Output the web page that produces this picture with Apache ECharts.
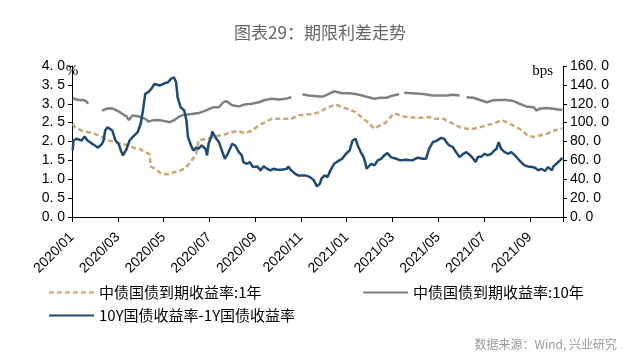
<!DOCTYPE html>
<html><head><meta charset="utf-8">
<script src="https://cdn.jsdelivr.net/npm/echarts@6/dist/echarts.min.js"></script>
<style>html,body{margin:0;padding:0;background:#fff}#c{width:640px;height:359px}</style>
</head><body><div id="c"></div>
<script>
const titleText = '图表29：期限利差走势';
const sourceText = '数据来源：Wind, 兴业研究';
const seriesNames = ['中债国债到期收益率:1年', '中债国债到期收益率:10年', '10Y国债收益率-1Y国债收益率'];
const leftUnit = '%';
const rightUnit = 'bps';
const axisStart = '2020-01-01';
const axisEnd = '2021-10-15';
const leftRange = [0, 4, 0.5];
const rightRange = [0, 160, 20];

const yield1Y = [
['2020-01-02',2.47],['2020-01-05',2.38],['2020-01-14',2.29],['2020-01-22',2.25],['2020-02-01',2.20],
['2020-02-10',2.12],['2020-02-18',2.03],['2020-02-27',1.98],['2020-03-06',1.94],['2020-03-15',1.90],
['2020-03-23',1.83],['2020-03-30',1.81],['2020-04-07',1.72],['2020-04-13',1.66],['2020-04-14',1.34],
['2020-04-19',1.28],['2020-04-28',1.15],['2020-05-07',1.13],['2020-05-16',1.19],['2020-05-24',1.23],
['2020-06-01',1.32],['2020-06-08',1.50],['2020-06-14',1.68],['2020-06-17',2.03],['2020-06-26',2.07],
['2020-07-05',2.10],['2020-07-14',2.16],['2020-07-22',2.19],['2020-08-01',2.25],['2020-08-10',2.27],
['2020-08-18',2.22],['2020-08-27',2.28],['2020-09-06',2.43],['2020-09-14',2.51],['2020-09-23',2.60],
['2020-10-02',2.60],['2020-10-11',2.60],['2020-10-19',2.60],['2020-10-28',2.69],['2020-11-07',2.72],
['2020-11-15',2.72],['2020-11-26',2.78],['2020-11-30',2.84],['2020-12-08',2.91],['2020-12-17',2.98],
['2020-12-26',2.91],['2021-01-05',2.84],['2021-01-13',2.78],['2021-01-22',2.63],['2021-02-01',2.47],
['2021-02-07',2.34],['2021-02-14',2.43],['2021-02-20',2.49],['2021-02-25',2.60],['2021-03-02',2.73],
['2021-03-08',2.72],['2021-03-14',2.66],['2021-03-23',2.65],['2021-04-02',2.63],['2021-04-11',2.63],
['2021-04-19',2.65],['2021-04-28',2.60],['2021-05-09',2.60],['2021-05-12',2.56],['2021-05-21',2.47],
['2021-05-30',2.38],['2021-06-08',2.34],['2021-06-17',2.34],['2021-06-26',2.38],['2021-07-05',2.43],
['2021-07-13',2.47],['2021-07-22',2.54],['2021-07-26',2.56],['2021-08-05',2.47],['2021-08-14',2.38],
['2021-08-22',2.29],['2021-08-29',2.16],['2021-09-06',2.12],['2021-09-14',2.16],['2021-09-23',2.20],
['2021-10-02',2.28],['2021-10-11',2.34],['2021-10-14',2.34]
];

const yield10Y = [
['2020-01-02',3.15],['2020-01-09',3.10],['2020-01-16',3.10],['2020-01-20',3.07],['2020-01-23',3.00],
['2020-01-28',null],['2020-02-10',2.82],['2020-02-16',2.87],['2020-02-23',2.88],['2020-02-29',2.82],
['2020-03-06',2.75],['2020-03-13',2.66],['2020-03-16',2.57],['2020-03-21',2.69],['2020-03-30',2.66],
['2020-04-07',2.60],['2020-04-11',2.53],['2020-04-17',2.56],['2020-04-24',2.57],['2020-05-03',2.54],
['2020-05-09',2.51],['2020-05-16',2.57],['2020-05-22',2.66],['2020-05-29',2.71],['2020-06-08',2.73],
['2020-06-14',2.75],['2020-06-17',2.75],['2020-06-26',2.82],['2020-07-02',2.87],['2020-07-07',2.91],
['2020-07-14',2.91],['2020-07-20',3.04],['2020-07-24',3.07],['2020-08-01',2.96],['2020-08-10',2.93],
['2020-08-18',2.98],['2020-08-27',3.00],['2020-09-06',3.04],['2020-09-14',3.10],['2020-09-23',3.13],
['2020-10-02',3.11],['2020-10-11',3.13],['2020-10-19',3.17],['2020-10-26',null],['2020-11-03',3.25],
['2020-11-11',3.22],['2020-11-26',3.19],['2020-11-30',3.19],['2020-12-08',3.26],['2020-12-15',3.33],
['2020-12-26',3.28],['2021-01-05',3.28],['2021-01-13',3.26],['2021-01-22',3.22],['2021-01-31',3.17],
['2021-02-07',3.13],['2021-02-14',3.16],['2021-02-22',3.16],['2021-03-02',3.22],['2021-03-10',3.25],
['2021-03-12',null],['2021-03-17',3.29],['2021-03-28',3.28],['2021-04-11',3.26],['2021-04-24',3.22],
['2021-05-09',3.22],['2021-05-12',3.22],['2021-05-21',3.24],['2021-05-30',3.22],['2021-06-03',null],
['2021-06-08',3.17],['2021-06-17',3.16],['2021-06-26',3.10],['2021-07-05',3.04],['2021-07-13',3.09],
['2021-07-22',3.10],['2021-07-31',3.10],['2021-08-10',3.07],['2021-08-18',3.00],['2021-08-27',2.93],
['2021-09-06',2.91],['2021-09-10',2.82],['2021-09-14',2.87],['2021-09-23',2.89],['2021-10-02',2.87],
['2021-10-11',2.84],['2021-10-14',2.84]
];

const spreadBps = [
['2020-01-02',70.5],['2020-01-03',81.1],['2020-01-07',82.9],['2020-01-14',81.1],['2020-01-18',85.4],
['2020-01-22',81.1],['2020-01-27',78.3],['2020-02-01',75.8],['2020-02-05',73.4],['2020-02-10',77.6],
['2020-02-12',81.1],['2020-02-14',91.7],['2020-02-17',95.2],['2020-02-23',91.7],['2020-02-27',81.1],
['2020-03-02',77.6],['2020-03-06',68.8],['2020-03-08',65.3],['2020-03-13',72.3],['2020-03-17',81.1],
['2020-03-21',84.6],['2020-03-23',86.4],['2020-03-28',89.9],['2020-04-01',98.8],['2020-04-04',112.9],
['2020-04-07',130.5],['2020-04-11',132.3],['2020-04-15',135.8],['2020-04-19',141.1],['2020-04-26',139.3],
['2020-05-03',141.8],['2020-05-07',142.8],['2020-05-11',146.4],['2020-05-15',148.1],['2020-05-18',142.8],
['2020-05-20',127.0],['2020-05-24',116.4],['2020-05-29',112.9],['2020-06-01',102.3],['2020-06-03',84.6],
['2020-06-07',75.8],['2020-06-10',70.5],['2020-06-14',73.4],['2020-06-17',72.3],['2020-06-21',75.8],
['2020-06-26',72.3],['2020-06-28',65.3],['2020-06-30',77.6],['2020-07-04',86.4],['2020-07-05',90.6],
['2020-07-09',84.6],['2020-07-14',79.4],['2020-07-18',70.5],['2020-07-22',61.7],['2020-07-26',67.0],
['2020-08-01',77.6],['2020-08-05',75.8],['2020-08-10',68.8],['2020-08-14',65.3],['2020-08-16',58.2],
['2020-08-21',56.4],['2020-08-25',58.2],['2020-08-29',52.9],['2020-09-04',53.6],['2020-09-08',49.4],
['2020-09-12',53.6],['2020-09-17',51.1],['2020-09-21',49.4],['2020-09-25',51.1],['2020-09-30',50.1],
['2020-10-06',50.1],['2020-10-13',51.1],['2020-10-15',53.6],['2020-10-19',49.4],['2020-10-24',45.9],
['2020-10-28',44.1],['2020-11-07',44.1],['2020-11-13',42.3],['2020-11-18',38.8],['2020-11-22',32.4],
['2020-11-26',35.3],['2020-11-28',40.6],['2020-12-02',44.1],['2020-12-06',42.3],['2020-12-10',49.4],
['2020-12-15',56.4],['2020-12-22',60.0],['2020-12-26',61.7],['2020-12-31',67.0],['2021-01-05',70.5],
['2021-01-09',81.1],['2021-01-13',82.9],['2021-01-16',75.8],['2021-01-20',68.8],['2021-01-24',63.5],
['2021-01-26',58.2],['2021-01-28',51.1],['2021-02-03',56.4],['2021-02-07',54.7],['2021-02-11',60.0],
['2021-02-15',61.7],['2021-02-19',65.3],['2021-02-23',67.7],['2021-02-27',63.5],['2021-03-06',61.7],
['2021-03-12',60.0],['2021-03-19',60.7],['2021-03-28',60.0],['2021-04-04',62.8],['2021-04-11',61.7],
['2021-04-15',61.7],['2021-04-19',72.3],['2021-04-24',79.4],['2021-04-28',80.4],['2021-05-05',83.9],
['2021-05-09',82.9],['2021-05-12',79.4],['2021-05-16',75.8],['2021-05-21',74.1],['2021-05-25',68.8],
['2021-05-30',63.5],['2021-06-04',67.0],['2021-06-08',68.8],['2021-06-13',65.3],['2021-06-17',61.7],
['2021-06-20',58.2],['2021-06-23',63.5],['2021-06-28',64.2],['2021-07-02',67.0],['2021-07-06',65.3],
['2021-07-11',67.0],['2021-07-15',70.5],['2021-07-18',72.3],['2021-07-21',79.4],['2021-07-24',72.3],
['2021-07-29',68.8],['2021-08-03',67.0],['2021-08-07',68.8],['2021-08-12',65.3],['2021-08-16',61.7],
['2021-08-20',58.2],['2021-08-25',54.7],['2021-08-29',53.6],['2021-09-04',52.9],['2021-09-08',52.2],
['2021-09-12',49.4],['2021-09-16',51.1],['2021-09-21',48.7],['2021-09-25',52.9],['2021-09-30',49.4],
['2021-10-02',53.6],['2021-10-06',56.4],['2021-10-11',60.0],['2021-10-14',62.8]
];

const startYear = Number(axisStart.slice(0, 4));
function monthIndex(s) {
  const [y, m, d] = s.split('-').map(Number);
  const dim = new Date(y, m, 0).getDate();
  return (y - startYear) * 12 + (m - 1) + (d - 1) / dim;
}
function toPts(arr) { return arr.map(([d, v]) => [monthIndex(d), v == null ? '-' : v]); }
function monthLabel(v) {
  const k = Math.round(v);
  if (Math.abs(v - k) > 1e-6 || k % 2 !== 0) return '';
  const y = startYear + Math.floor(k / 12), m = k % 12 + 1;
  return y + '/' + (m < 10 ? '0' : '') + m;
}
function numLabel(v) { return v.toFixed(1).replace('.', '. '); }

const tickFont = 'Liberation Sans';
const cjkFont = '"Noto Sans CJK SC"';
const chart = echarts.init(document.getElementById('c'), null, {renderer: 'canvas'});
const legendBase = {
  orient: 'horizontal', itemWidth: 45, itemHeight: 12, itemGap: 10, padding: 0,
  itemStyle: {opacity: 0, borderWidth: 0},
  textStyle: {fontSize: 15, color: '#000', fontFamily: cjkFont}, selectedMode: false
};
chart.setOption({
  animation: false,
  backgroundColor: '#fff',
  title: [
    {text: titleText, left: 'center', top: 19, textStyle: {fontSize: 17, fontWeight: 'normal', color: '#666', fontFamily: cjkFont}},
    {text: sourceText, right: 18, top: 333, textStyle: {fontSize: 12, fontWeight: 'normal', color: '#999', fontFamily: cjkFont}}
  ],
  legend: [
    Object.assign({}, legendBase, {data: [seriesNames[0]], left: 48, top: 285}),
    Object.assign({}, legendBase, {data: [seriesNames[1]], left: 362, top: 285}),
    Object.assign({}, legendBase, {data: [seriesNames[2]], left: 48, top: 308})
  ],
  grid: {left: 72, right: 77, top: 66, bottom: 142},
  xAxis: {
    type: 'value', min: 0, max: monthIndex(axisEnd), interval: 2,
    axisLine: {show: true, lineStyle: {color: '#000', width: 1}},
    axisTick: {show: true, inside: false, length: 5, lineStyle: {color: '#000'}},
    splitLine: {show: false},
    axisLabel: {rotate: 45, formatter: monthLabel, fontSize: 14, color: '#000', fontFamily: tickFont, margin: 18}
  },
  yAxis: [
    {
      type: 'value', position: 'left', min: leftRange[0], max: leftRange[1], interval: leftRange[2],
      name: leftUnit, nameLocation: 'end', nameGap: -13, nameMoveOverlap: false,
      nameTextStyle: {fontSize: 15, color: '#000', fontFamily: 'Liberation Serif'},
      axisLine: {show: true, lineStyle: {color: '#000'}},
      axisTick: {show: true, length: 4, lineStyle: {color: '#000'}},
      splitLine: {show: false},
      axisLabel: {formatter: numLabel, fontSize: 14, color: '#000', fontFamily: tickFont, margin: 7}
    },
    {
      type: 'value', position: 'right', min: rightRange[0], max: rightRange[1], interval: rightRange[2],
      name: rightUnit, nameLocation: 'end', nameGap: -13, nameMoveOverlap: false,
      nameTextStyle: {fontSize: 15, color: '#000', fontFamily: 'Liberation Serif', align: 'right', padding: [0, 10, 0, 0]},
      axisLine: {show: true, lineStyle: {color: '#000'}},
      axisTick: {show: true, length: 4, lineStyle: {color: '#000'}},
      splitLine: {show: false},
      axisLabel: {formatter: numLabel, fontSize: 14, color: '#000', fontFamily: tickFont, margin: 7}
    }
  ],
  series: [
    {name: seriesNames[0], type: 'line', yAxisIndex: 0, data: toPts(yield1Y), symbol: 'none', connectNulls: false,
     lineStyle: {color: '#C9A873', width: 2.5, type: [5, 3]}, itemStyle: {color: '#C9A873'}},
    {name: seriesNames[1], type: 'line', yAxisIndex: 0, data: toPts(yield10Y), symbol: 'none', connectNulls: false,
     lineStyle: {color: '#808080', width: 2.5}, itemStyle: {color: '#808080'}},
    {name: seriesNames[2], type: 'line', yAxisIndex: 1, data: toPts(spreadBps), symbol: 'none', connectNulls: false,
     lineStyle: {color: '#1F4A73', width: 2.5}, itemStyle: {color: '#1F4A73'}}
  ]
});
</script></body></html>
